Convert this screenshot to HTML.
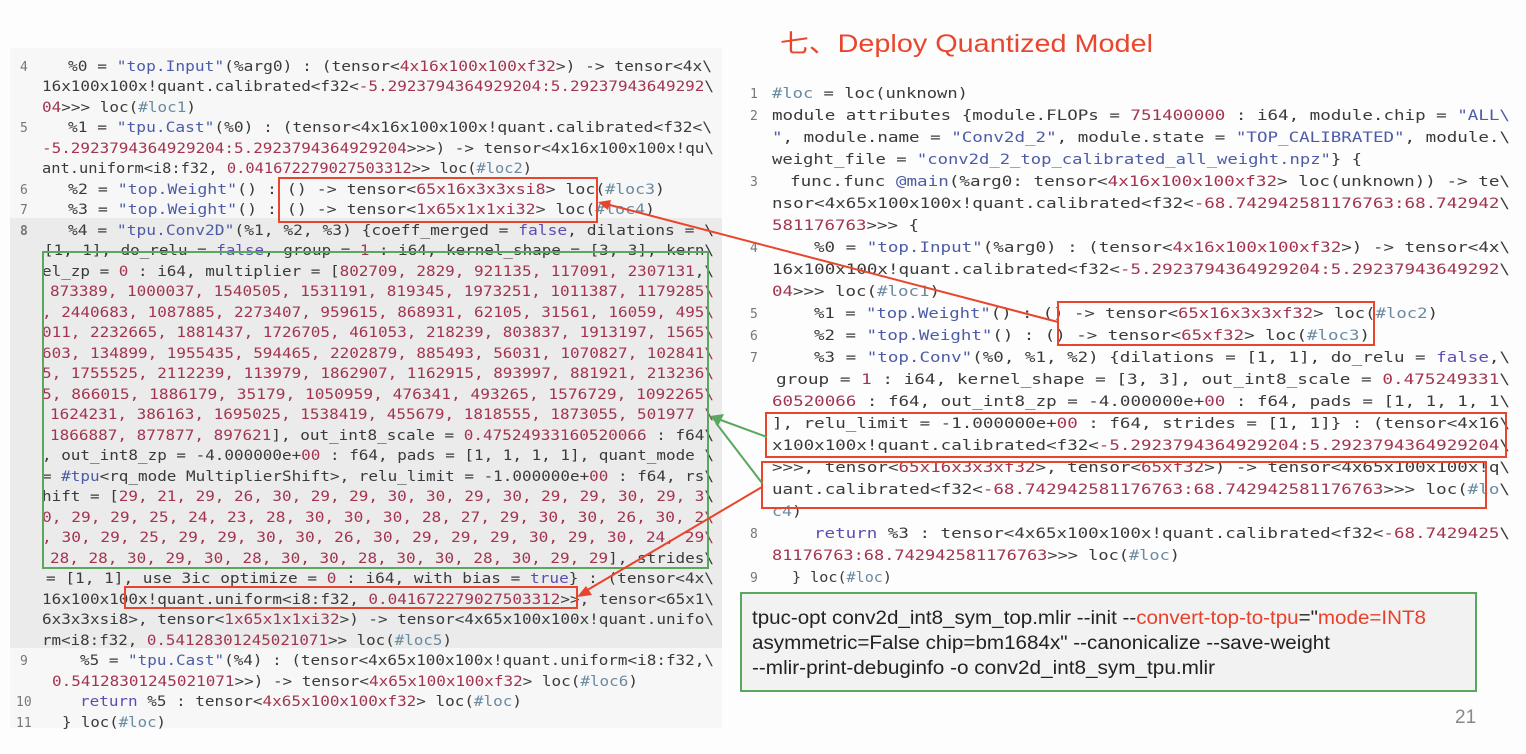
<!DOCTYPE html>
<html><head><meta charset="utf-8">
<style>
html,body{margin:0;padding:0;background:#fdfdfd;}
svg{display:block;}
.c{font-family:"DejaVu Sans Mono","Liberation Mono",monospace;font-size:14px;fill:#3a3a3a;}
.ln{font-family:"DejaVu Sans Mono","Liberation Mono",monospace;font-size:13px;fill:#777;}
.s{fill:#4c5ca6;}
.n{fill:#a3344f;}
.k{fill:#5a4fb0;}
.l{fill:#6a8aa0;}
</style></head>
<body>
<svg width="1526" height="754" viewBox="0 0 1526 754" xmlns="http://www.w3.org/2000/svg">
<rect x="0" y="0" width="1526" height="754" fill="#fdfdfd"/>
<rect x="10" y="48" width="712" height="680" fill="#f7f7f7"/>
<rect x="10" y="218" width="712" height="430" fill="#ebebeb"/>

<text x="780" y="52" font-family="Liberation Sans, Noto Sans CJK SC, sans-serif" font-size="25" fill="#e8472e" textLength="373" lengthAdjust="spacingAndGlyphs">七、Deploy Quantized Model</text>

<g class="c">
<text class="ln" x="20" y="71">4</text>
<text x="68" y="71" textLength="644" lengthAdjust="spacingAndGlyphs">%0 = <tspan class="s">"top.Input"</tspan>(%arg0) : (tensor&lt;<tspan class="n">4x16x100x100xf32</tspan>&gt;) -&gt; tensor&lt;4x\</text>
<text x="42" y="91" textLength="672" lengthAdjust="spacingAndGlyphs">16x100x100x!quant.calibrated&lt;f32&lt;<tspan class="n">-5.2923794364929204:5.29237943649292</tspan>\</text>
<text x="42" y="112" textLength="154" lengthAdjust="spacingAndGlyphs"><tspan class="n">04</tspan>&gt;&gt;&gt; loc(<tspan class="l">#loc1</tspan>)</text>
<text class="ln" x="20" y="132">5</text>
<text x="68" y="132" textLength="644" lengthAdjust="spacingAndGlyphs">%1 = <tspan class="s">"tpu.Cast"</tspan>(%0) : (tensor&lt;4x16x100x100x!quant.calibrated&lt;f32&lt;\</text>
<text x="42" y="153" textLength="672" lengthAdjust="spacingAndGlyphs"><tspan class="n">-5.2923794364929204:5.2923794364929204</tspan>&gt;&gt;&gt;) -&gt; tensor&lt;4x16x100x100x!qu\</text>
<text x="42" y="173" textLength="490" lengthAdjust="spacingAndGlyphs">ant.uniform&lt;i8:f32, <tspan class="n">0.041672279027503312</tspan>&gt;&gt; loc(<tspan class="l">#loc2</tspan>)</text>
<text class="ln" x="20" y="194">6</text>
<text x="68" y="194" textLength="597" lengthAdjust="spacingAndGlyphs">%2 = <tspan class="s">"top.Weight"</tspan>() : () -&gt; tensor&lt;<tspan class="n">65x16x3x3xsi8</tspan>&gt; loc(<tspan class="l">#loc3</tspan>)</text>
<text class="ln" x="20" y="214">7</text>
<text x="68" y="214" textLength="587" lengthAdjust="spacingAndGlyphs">%3 = <tspan class="s">"top.Weight"</tspan>() : () -&gt; tensor&lt;<tspan class="n">1x65x1x1xi32</tspan>&gt; loc(<tspan class="l">#loc4</tspan>)</text>
<text class="ln" x="20" y="235" font-weight="bold" fill="#333">8</text>
<text x="68" y="235" textLength="646" lengthAdjust="spacingAndGlyphs">%4 = <tspan class="s">"tpu.Conv2D"</tspan>(%1, %2, %3) {coeff_merged = <tspan class="k">false</tspan>, dilations = \</text>
<text x="44" y="255" textLength="670" lengthAdjust="spacingAndGlyphs">[1, 1], do_relu = <tspan class="k">false</tspan>, group = <tspan class="n">1</tspan> : i64, kernel_shape = [3, 3], kern\</text>
<text x="42" y="276" textLength="672" lengthAdjust="spacingAndGlyphs">el_zp = <tspan class="n">0</tspan> : i64, multiplier = [<tspan class="n">802709, 2829, 921135, 117091, 2307131</tspan>,\</text>
<text x="50" y="296" textLength="664" lengthAdjust="spacingAndGlyphs" class="n">873389, 1000037, 1540505, 1531191, 819345, 1973251, 1011387, 1179285\</text>
<text x="42" y="317" textLength="672" lengthAdjust="spacingAndGlyphs" class="n">, 2440683, 1087885, 2273407, 959615, 868931, 62105, 31561, 16059, 495\</text>
<text x="42" y="337" textLength="672" lengthAdjust="spacingAndGlyphs" class="n">011, 2232665, 1881437, 1726705, 461053, 218239, 803837, 1913197, 1565\</text>
<text x="42" y="358" textLength="672" lengthAdjust="spacingAndGlyphs" class="n">603, 134899, 1955435, 594465, 2202879, 885493, 56031, 1070827, 102841\</text>
<text x="42" y="378" textLength="672" lengthAdjust="spacingAndGlyphs" class="n">5, 1755525, 2112239, 113979, 1862907, 1162915, 893997, 881921, 213236\</text>
<text x="42" y="399" textLength="672" lengthAdjust="spacingAndGlyphs" class="n">5, 866015, 1886179, 35179, 1050959, 476341, 493265, 1576729, 1092265\</text>
<text x="50" y="419" textLength="664" lengthAdjust="spacingAndGlyphs" class="n">1624231, 386163, 1695025, 1538419, 455679, 1818555, 1873055, 501977 \</text>
<text x="50" y="440" textLength="664" lengthAdjust="spacingAndGlyphs"><tspan class="n">1866887, 877877, 897621</tspan>], out_int8_scale = <tspan class="n">0.47524933160520066</tspan> : f64\</text>
<text x="42" y="460" textLength="672" lengthAdjust="spacingAndGlyphs">, out_int8_zp = -4.000000e+<tspan class="n">00</tspan> : f64, pads = [1, 1, 1, 1], quant_mode \</text>
<text x="42" y="481" textLength="672" lengthAdjust="spacingAndGlyphs">= <tspan class="s">#tpu</tspan>&lt;rq_mode MultiplierShift&gt;, relu_limit = -1.000000e+<tspan class="n">00</tspan> : f64, rs\</text>
<text x="42" y="501" textLength="672" lengthAdjust="spacingAndGlyphs">hift = [<tspan class="n">29, 21, 29, 26, 30, 29, 29, 30, 30, 29, 30, 29, 29, 30, 29, 3</tspan>\</text>
<text x="42" y="522" textLength="672" lengthAdjust="spacingAndGlyphs" class="n">0, 29, 29, 25, 24, 23, 28, 30, 30, 30, 28, 27, 29, 30, 30, 26, 30, 2\</text>
<text x="42" y="542" textLength="672" lengthAdjust="spacingAndGlyphs" class="n">, 30, 29, 25, 29, 29, 30, 30, 26, 30, 29, 29, 29, 30, 29, 30, 24, 29\</text>
<text x="50" y="563" textLength="664" lengthAdjust="spacingAndGlyphs"><tspan class="n">28, 28, 30, 29, 30, 28, 30, 30, 28, 30, 30, 28, 30, 29, 29</tspan>], strides\</text>
<text x="46" y="583" textLength="668" lengthAdjust="spacingAndGlyphs">= [1, 1], use_3ic_optimize = <tspan class="n">0</tspan> : i64, with_bias = <tspan class="k">true</tspan>} : (tensor&lt;4x\</text>
<text x="42" y="604" textLength="672" lengthAdjust="spacingAndGlyphs">16x100x100x!quant.uniform&lt;i8:f32, <tspan class="n">0.041672279027503312</tspan>&gt;&gt;, tensor&lt;65x1\</text>
<text x="42" y="624" textLength="672" lengthAdjust="spacingAndGlyphs">6x3x3xsi8&gt;, tensor&lt;<tspan class="n">1x65x1x1xi32</tspan>&gt;) -&gt; tensor&lt;4x65x100x100x!quant.unifo\</text>
<text x="42" y="645" textLength="410" lengthAdjust="spacingAndGlyphs">rm&lt;i8:f32, <tspan class="n">0.54128301245021071</tspan>&gt;&gt; loc(<tspan class="l">#loc5</tspan>)</text>
<text class="ln" x="20" y="665">9</text>
<text x="80" y="665" textLength="634" lengthAdjust="spacingAndGlyphs">%5 = <tspan class="s">"tpu.Cast"</tspan>(%4) : (tensor&lt;4x65x100x100x!quant.uniform&lt;i8:f32,\</text>
<text x="52" y="686" textLength="586" lengthAdjust="spacingAndGlyphs"><tspan class="n">0.54128301245021071</tspan>&gt;&gt;) -&gt; tensor&lt;<tspan class="n">4x65x100x100xf32</tspan>&gt; loc(<tspan class="l">#loc6</tspan>)</text>
<text class="ln" x="16" y="706">10</text>
<text x="80" y="706" textLength="442" lengthAdjust="spacingAndGlyphs"><tspan class="k">return</tspan> %5 : tensor&lt;<tspan class="n">4x65x100x100xf32</tspan>&gt; loc(<tspan class="l">#loc</tspan>)</text>
<text class="ln" x="16" y="727">11</text>
<text x="62" y="727" textLength="104" lengthAdjust="spacingAndGlyphs">} loc(<tspan class="l">#loc</tspan>)</text>
</g>

<g class="c">
<text class="ln" x="750" y="98">1</text>
<text x="772" y="98" textLength="196" lengthAdjust="spacingAndGlyphs"><tspan class="l">#loc</tspan> = loc(unknown)</text>
<text class="ln" x="750" y="120">2</text>
<text x="772" y="120" textLength="738" lengthAdjust="spacingAndGlyphs">module attributes {module.FLOPs = <tspan class="n">751400000</tspan> : i64, module.chip = <tspan class="s">"ALL\</tspan></text>
<text x="772" y="142" textLength="738" lengthAdjust="spacingAndGlyphs"><tspan class="s">"</tspan>, module.name = <tspan class="s">"Conv2d_2"</tspan>, module.state = <tspan class="s">"TOP_CALIBRATED"</tspan>, module.\</text>
<text x="772" y="164" textLength="590" lengthAdjust="spacingAndGlyphs">weight_file = <tspan class="s">"conv2d_2_top_calibrated_all_weight.npz"</tspan>} {</text>
<text class="ln" x="750" y="186">3</text>
<text x="790" y="186" textLength="720" lengthAdjust="spacingAndGlyphs">func.func <tspan class="s">@main</tspan>(%arg0: tensor&lt;<tspan class="n">4x16x100x100xf32</tspan>&gt; loc(unknown)) -&gt; te\</text>
<text x="772" y="208" textLength="738" lengthAdjust="spacingAndGlyphs">nsor&lt;4x65x100x100x!quant.calibrated&lt;f32&lt;<tspan class="n">-68.742942581176763:68.742942</tspan>\</text>
<text x="772" y="230" textLength="147" lengthAdjust="spacingAndGlyphs"><tspan class="n">581176763</tspan>&gt;&gt;&gt; {</text>
<text class="ln" x="750" y="252">4</text>
<text x="814" y="252" textLength="696" lengthAdjust="spacingAndGlyphs">%0 = <tspan class="s">"top.Input"</tspan>(%arg0) : (tensor&lt;<tspan class="n">4x16x100x100xf32</tspan>&gt;) -&gt; tensor&lt;4x\</text>
<text x="772" y="274" textLength="738" lengthAdjust="spacingAndGlyphs">16x100x100x!quant.calibrated&lt;f32&lt;<tspan class="n">-5.2923794364929204:5.29237943649292</tspan>\</text>
<text x="772" y="296" textLength="168" lengthAdjust="spacingAndGlyphs"><tspan class="n">04</tspan>&gt;&gt;&gt; loc(<tspan class="l">#loc1</tspan>)</text>
<text class="ln" x="750" y="318">5</text>
<text x="814" y="318" textLength="624" lengthAdjust="spacingAndGlyphs">%1 = <tspan class="s">"top.Weight"</tspan>() : () -&gt; tensor&lt;<tspan class="n">65x16x3x3xf32</tspan>&gt; loc(<tspan class="l">#loc2</tspan>)</text>
<text class="ln" x="750" y="340">6</text>
<text x="814" y="340" textLength="556" lengthAdjust="spacingAndGlyphs">%2 = <tspan class="s">"top.Weight"</tspan>() : () -&gt; tensor&lt;<tspan class="n">65xf32</tspan>&gt; loc(<tspan class="l">#loc3</tspan>)</text>
<text class="ln" x="750" y="362">7</text>
<text x="814" y="362" textLength="696" lengthAdjust="spacingAndGlyphs">%3 = <tspan class="s">"top.Conv"</tspan>(%0, %1, %2) {dilations = [1, 1], do_relu = <tspan class="k">false</tspan>,\</text>
<text x="776" y="384" textLength="734" lengthAdjust="spacingAndGlyphs">group = <tspan class="n">1</tspan> : i64, kernel_shape = [3, 3], out_int8_scale = <tspan class="n">0.475249331</tspan>\</text>
<text x="772" y="406" textLength="738" lengthAdjust="spacingAndGlyphs"><tspan class="n">60520066</tspan> : f64, out_int8_zp = -4.000000e+<tspan class="n">00</tspan> : f64, pads = [1, 1, 1, 1\</text>
<text x="772" y="428" textLength="738" lengthAdjust="spacingAndGlyphs">], relu_limit = -1.000000e+<tspan class="n">00</tspan> : f64, strides = [1, 1]} : (tensor&lt;4x16\</text>
<text x="772" y="450" textLength="738" lengthAdjust="spacingAndGlyphs">x100x100x!quant.calibrated&lt;f32&lt;<tspan class="n">-5.2923794364929204:5.2923794364929204</tspan>\</text>
<text x="772" y="472" textLength="738" lengthAdjust="spacingAndGlyphs">&gt;&gt;&gt;, tensor&lt;<tspan class="n">65x16x3x3xf32</tspan>&gt;, tensor&lt;<tspan class="n">65xf32</tspan>&gt;) -&gt; tensor&lt;4x65x100x100x!q\</text>
<text x="772" y="494" textLength="738" lengthAdjust="spacingAndGlyphs">uant.calibrated&lt;f32&lt;<tspan class="n">-68.742942581176763:68.742942581176763</tspan>&gt;&gt;&gt; loc(<tspan class="l">#lo</tspan>\</text>
<text x="772" y="516" textLength="30" lengthAdjust="spacingAndGlyphs"><tspan class="l">c4</tspan>)</text>
<text class="ln" x="750" y="538">8</text>
<text x="814" y="538" textLength="696" lengthAdjust="spacingAndGlyphs"><tspan class="k">return</tspan> %3 : tensor&lt;4x65x100x100x!quant.calibrated&lt;f32&lt;<tspan class="n">-68.7429425</tspan>\</text>
<text x="772" y="560" textLength="408" lengthAdjust="spacingAndGlyphs"><tspan class="n">81176763:68.742942581176763</tspan>&gt;&gt;&gt; loc(<tspan class="l">#loc</tspan>)</text>
<text class="ln" x="750" y="582">9</text>
<text x="792" y="582" textLength="100" lengthAdjust="spacingAndGlyphs">} loc(<tspan class="l">#loc</tspan>)</text>
</g>

<rect x="741" y="593" width="735" height="98" fill="#f2f2f2" stroke="#5aa85e" stroke-width="2"/>
<g font-family="Liberation Sans, sans-serif" font-size="19" fill="#222">
<text x="752" y="624" textLength="674" lengthAdjust="spacingAndGlyphs">tpuc-opt conv2d_int8_sym_top.mlir --init --<tspan fill="#e8402a">convert-top-to-tpu</tspan>="<tspan fill="#e8402a">mode=INT8</tspan></text>
<text x="752" y="649" textLength="578" lengthAdjust="spacingAndGlyphs">asymmetric=False chip=bm1684x" --canonicalize --save-weight</text>
<text x="752" y="674" textLength="463" lengthAdjust="spacingAndGlyphs">--mlir-print-debuginfo -o conv2d_int8_sym_tpu.mlir</text>
</g>
<text x="1455" y="723" font-family="Liberation Sans, sans-serif" font-size="19" fill="#888">21</text>

<g fill="none" stroke-width="2">
<rect x="279" y="178" width="318" height="44" stroke="#e8452c"/>
<rect x="125" y="587" width="452" height="21" stroke="#e8452c"/>
<rect x="43" y="252" width="665" height="316" stroke="#5aa85e"/>
<rect x="1058" y="302" width="316" height="43" stroke="#e8452c"/>
<rect x="766" y="413" width="740" height="44" stroke="#e8452c"/>
<rect x="762" y="462" width="724" height="46" stroke="#e8452c"/>
</g>

<g stroke-width="2" fill="none">
<line x1="1058" y1="322" x2="606" y2="204" stroke="#e8452c"/>
<line x1="762" y1="487" x2="584" y2="592" stroke="#e8452c"/>
<line x1="767" y1="437" x2="718" y2="419" stroke="#5aa85e"/>
<line x1="762" y1="483" x2="716" y2="423" stroke="#5aa85e"/>
</g>
<polygon points="598,202 611,200 608,210" fill="#e8452c"/>
<polygon points="577,597 586,586 592,595" fill="#e8452c"/>
<polygon points="710,416 724,414 718,426" fill="#5aa85e"/>
</svg>
</body></html>
